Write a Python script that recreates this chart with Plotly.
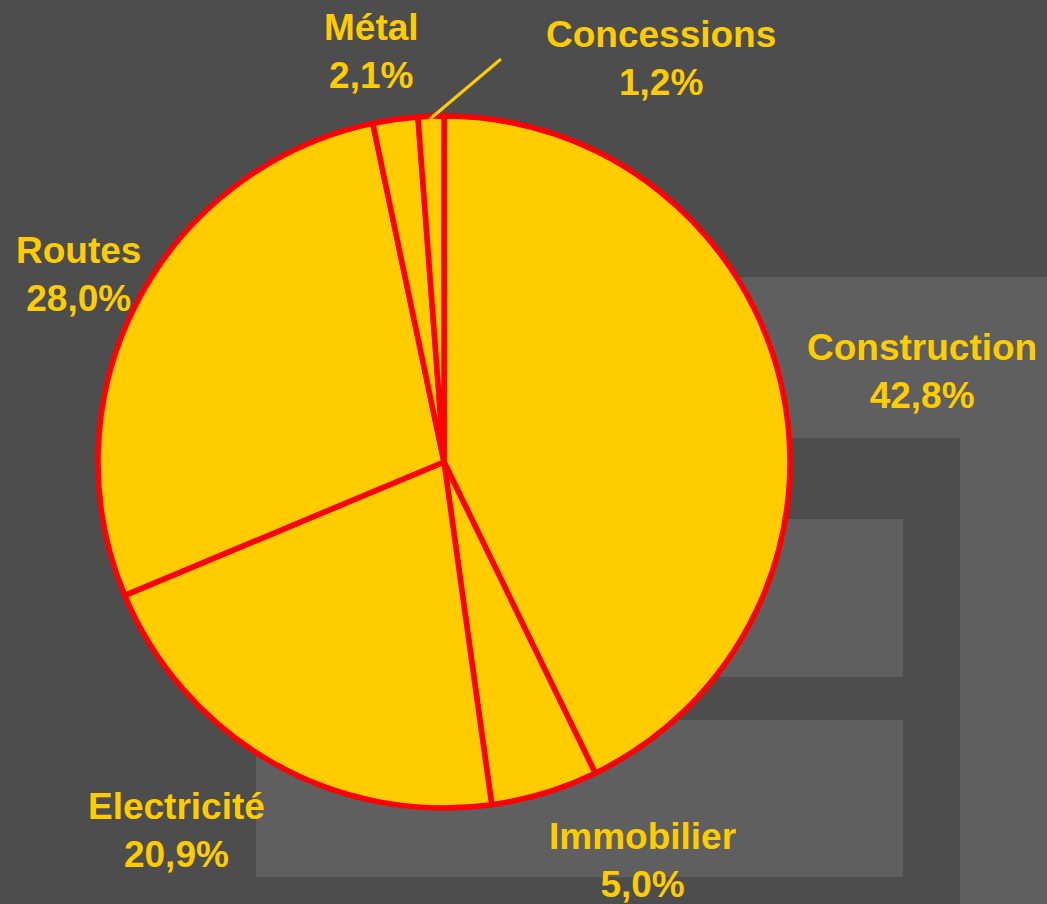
"""
Répartition du chiffre d'affaires par activité (camembert).
"""
import plotly.graph_objects as go

W, H = 1047, 904

LABELS = ['Construction', 'Immobilier', 'Electricité', 'Routes', 'Métal', 'Concessions']
VALUES = [42.8, 5.0, 20.9, 28.0, 2.1, 1.2]

# label centres in pixels (x, y from top)
LABEL_POS = [(922, 371), (642, 860), (176, 830), (78, 274), (371, 52), (661, 59)]

YELLOW = '#FFCC00'
RED = '#FF0000'
DARK = '#4D4D4D'
LIGHT = '#5F5F5F'


def px(x):
    return x / W


def py(y):
    return 1 - y / H


def rect(x0, y0, x1, y1, color):
    return dict(type='rect', xref='paper', yref='paper', layer='below',
                x0=px(x0), x1=px(x1), y0=py(y1), y1=py(y0),
                fillcolor=color, line=dict(width=0))


def fmt(v):
    return f'{v:.1f}%'.replace('.', ',')


fig = go.Figure()

cx, cy, r = 444, 462, 346
fig.add_trace(go.Pie(
    labels=LABELS,
    values=VALUES,
    sort=False,
    direction='clockwise',
    rotation=0,
    textinfo='none',
    hoverinfo='label+percent',
    marker=dict(colors=[YELLOW] * len(VALUES), line=dict(color=RED, width=5.5)),
    domain=dict(x=[px(cx - r), px(cx + r)], y=[py(cy + r), py(cy - r)]),
    showlegend=False,
))

shapes = [
    rect(600, 277, 1047, 904, LIGHT),
    rect(580, 438, 960, 904, DARK),
    rect(500, 519, 903, 677, LIGHT),
    rect(256, 720, 903, 877, LIGHT),
    dict(type='line', xref='paper', yref='paper',
         x0=px(430), y0=py(119), x1=px(501), y1=py(59),
         line=dict(color=YELLOW, width=3)),
]

annotations = []
for lab, val, (x, y) in zip(LABELS, VALUES, LABEL_POS):
    annotations.append(dict(
        xref='paper', yref='paper', x=px(x), y=py(y),
        xanchor='center', yanchor='middle', showarrow=False,
        text=f'<b>{lab}<br>{fmt(val)}</b>',
        font=dict(family='Arial, Liberation Sans, sans-serif', size=37, color=YELLOW),
        align='center',
    ))

fig.update_layout(
    width=W, height=H,
    margin=dict(t=0, b=0, l=0, r=0),
    paper_bgcolor=DARK,
    plot_bgcolor=DARK,
    shapes=shapes,
    annotations=annotations,
)

fig.write_html(
    'out.html',
    config={'displayModeBar': False},
    post_script="document.body.style.margin='0';document.body.style.overflow='hidden';",
)
